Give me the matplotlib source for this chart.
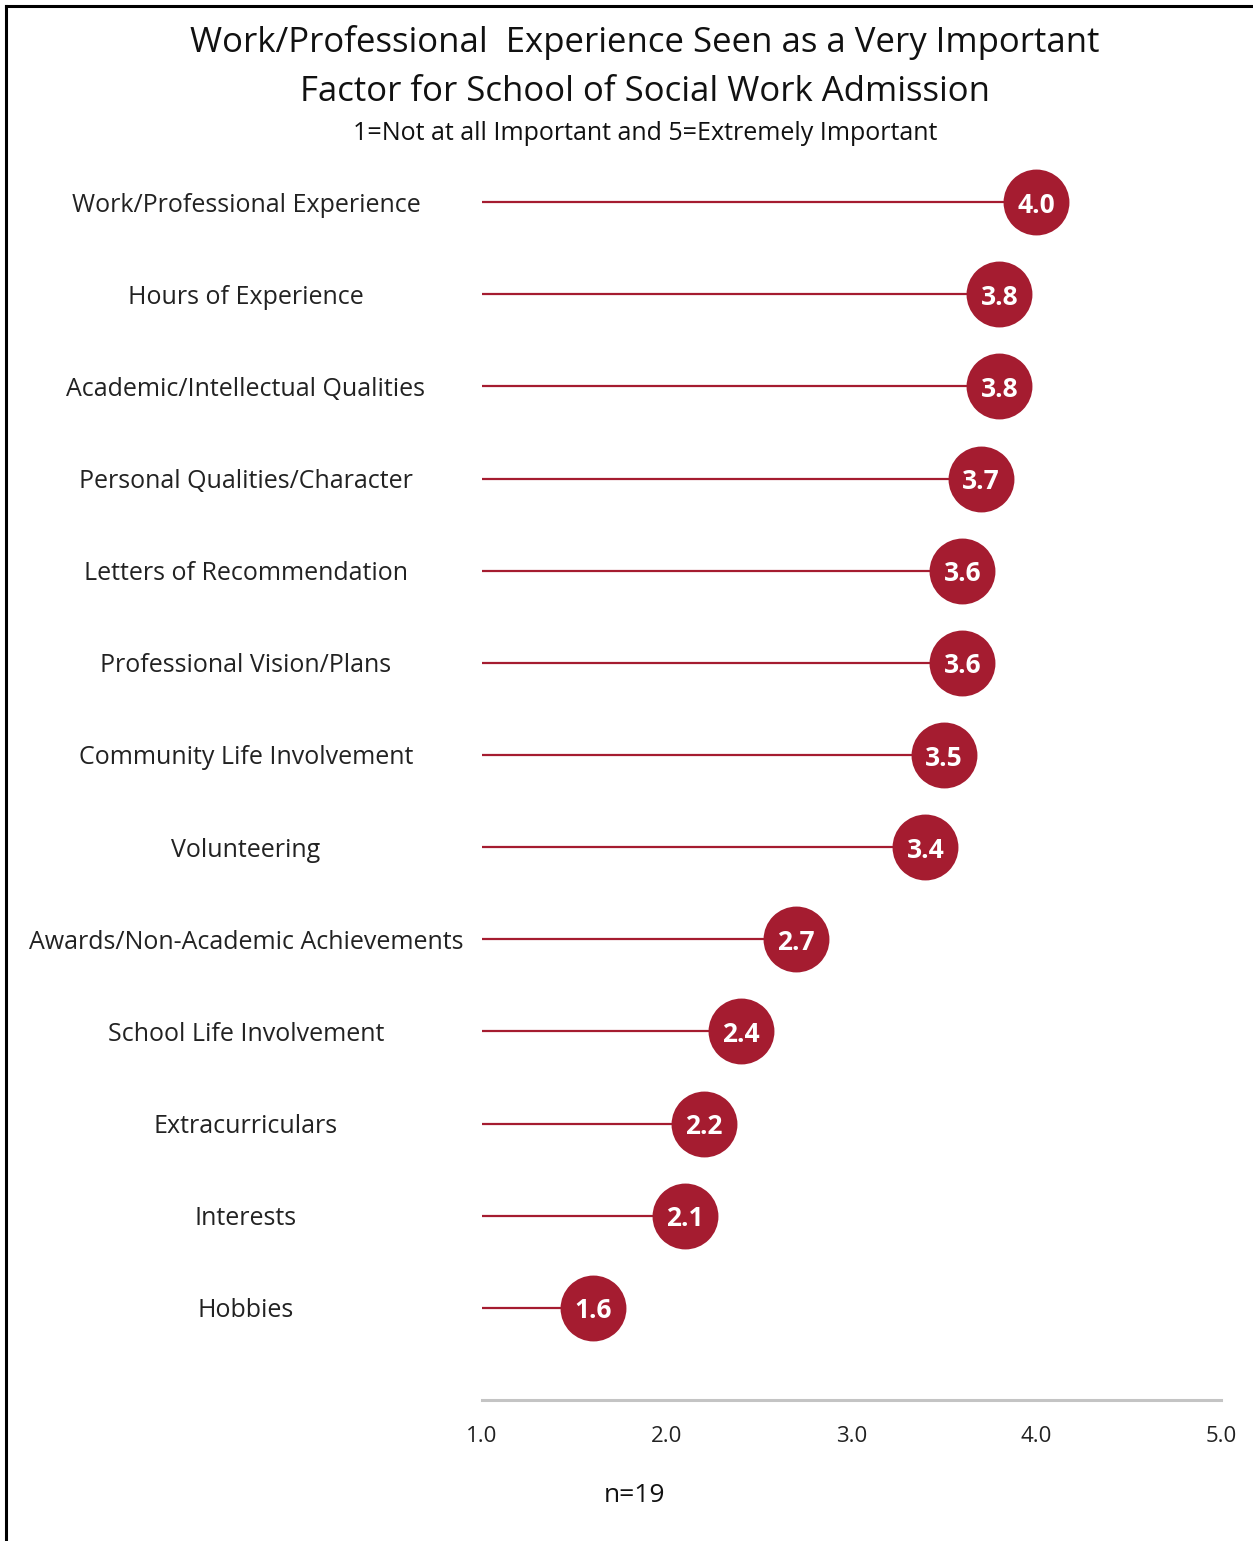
import matplotlib
matplotlib.use('Agg')
import matplotlib.pyplot as plt
from matplotlib.lines import Line2D

plt.rcParams['font.family'] = ['Open Sans', 'DejaVu Sans']

factors = ['Work/Professional Experience', 'Hours of Experience', 'Academic/Intellectual Qualities',
           'Personal Qualities/Character', 'Letters of Recommendation', 'Professional Vision/Plans',
           'Community Life Involvement', 'Volunteering', 'Awards/Non-Academic Achievements',
           'School Life Involvement', 'Extracurriculars', 'Interests', 'Hobbies']
scores = [4.0, 3.8, 3.8, 3.7, 3.6, 3.6, 3.5, 3.4, 2.7, 2.4, 2.2, 2.1, 1.6]
ticks = [1.0, 2.0, 3.0, 4.0, 5.0]
tick_labels = ['1.0', '2.0', '3.0', '4.0', '5.0']

crimson = '#a51c30'
W, H = 1253, 1541

fig = plt.figure(figsize=(W / 100, H / 100), dpi=100)
ax = fig.add_axes([482 / W, (H - 1400) / H, 739 / W, 1290 / H])

ypos = list(range(len(factors) - 1, -1, -1))
for y, v in zip(ypos, scores):
    ax.plot([1.0, v], [y, y], color=crimson, lw=1.6, solid_capstyle='butt', zorder=1)
ax.scatter(scores, ypos, s=2250, color=crimson, zorder=2, linewidths=0)
for y, v in zip(ypos, scores):
    ax.text(v, y, f'{v:.1f}', ha='center', va='center_baseline', color='white',
            fontsize=19, fontweight='bold', zorder=3)

ax.set_xlim(1, 5)
ax.set_ylim(-1, 13)
ax.set_xticks(ticks)
ax.set_xticklabels(tick_labels, fontsize=16, color='#222222')
ax.set_yticks(ypos)
ax.set_yticklabels(factors, fontsize=18, color='#222222')
for lab in ax.get_yticklabels():
    lab.set_ha('center')
ax.tick_params(axis='x', length=0, pad=19)
ax.tick_params(axis='y', length=0, pad=170)
for s in ['top', 'right', 'left']:
    ax.spines[s].set_visible(False)
ax.spines['bottom'].set_color('#c4c4c4')
ax.spines['bottom'].set_linewidth(2.2)
ax.set_facecolor('none')

fig.text(645 / W, 1 - 42 / H, 'Work/Professional  Experience Seen as a Very Important',
         ha='center', va='center', fontsize=25, color='#111111')
fig.text(645 / W, 1 - 92 / H, 'Factor for School of Social Work Admission',
         ha='center', va='center', fontsize=25, color='#111111')
fig.text(645 / W, 1 - 134 / H, '1=Not at all Important and 5=Extremely Important',
         ha='center', va='center', fontsize=18, color='#111111')
fig.text(635 / W, 1 - 1495 / H, 'n=19', ha='center', va='center', fontsize=19, color='#111111')

# frame along left and top edge
fig.add_artist(Line2D([5.5 / W, 5.5 / W], [0, 1 - 6 / H], color='black', lw=2.2,
                      transform=fig.transFigure))
fig.add_artist(Line2D([5.5 / W, 1], [1 - 6 / H, 1 - 6 / H], color='black', lw=2.2,
                      transform=fig.transFigure))

fig.savefig('out.png', dpi=100)
